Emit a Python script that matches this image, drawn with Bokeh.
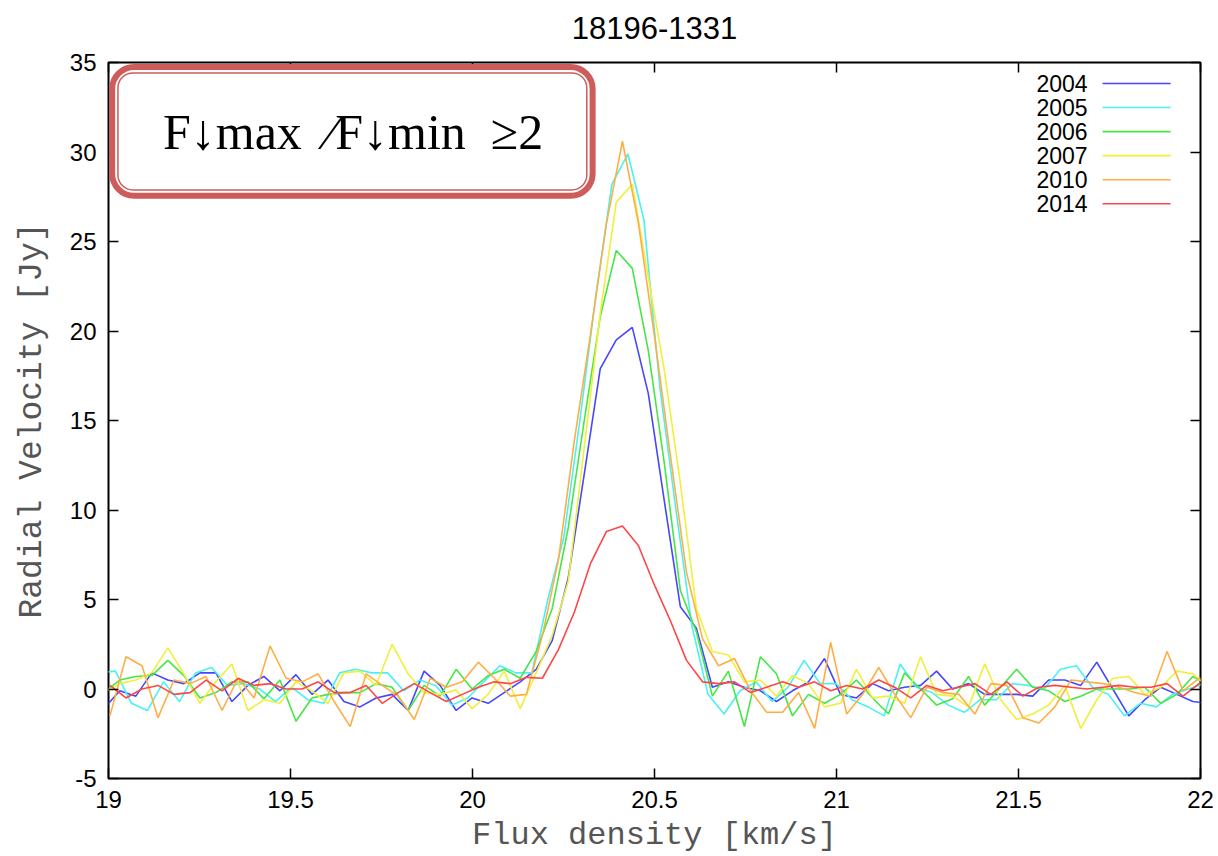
from bokeh.plotting import figure
from bokeh.models import (LinearAxis, FixedTicker, CustomJSTickFormatter, BoxAnnotation,
                          Label, Range1d, ColumnDataSource)
from bokeh.embed import file_html
from bokeh.resources import INLINE
from bokeh.core.properties import value

# ---------------- data ----------------
years = ["2004", "2005", "2006", "2007", "2010", "2014"]
colors = ["#4646ff", "#48f2f2", "#46e646", "#f0f03c", "#ffae46", "#ff4646"]

x_ticks = [19, 19.5, 20, 20.5, 21, 21.5, 22]
y_ticks = [-5, 0, 5, 10, 15, 20, 25, 30, 35]

# channel velocities (km/s)
velocity_base = [
    18.990, 19.034, 19.078, 19.122, 19.166, 19.210, 19.254, 19.298, 19.342, 19.386,
    19.430, 19.474, 19.518, 19.562, 19.606, 19.650, 19.694, 19.738, 19.782, 19.826,
    19.870, 19.914, 19.958, 20.002, 20.046, 20.090, 20.134, 20.178, 20.222, 20.266,
    20.310, 20.354, 20.398, 20.442, 20.486, 20.530, 20.574, 20.618, 20.662, 20.706,
    20.750, 20.794, 20.838, 20.882, 20.926, 20.970, 21.014, 21.058, 21.102, 21.146,
    21.190, 21.234, 21.278, 21.322, 21.366, 21.410, 21.454, 21.498, 21.542, 21.586,
    21.630, 21.674, 21.718, 21.762, 21.806, 21.850, 21.894, 21.938, 21.982, 22.026,
]
# per-epoch channel offset of the velocity grid (km/s)
channel_offset = {"2004": -0.003, "2005": -0.015, "2006": -0.003,
                  "2007": -0.003, "2010": 0.014, "2014": 0.014}

flux_2004 = [
    -1.1, -0.1, -0.4, 0.9, 0.5, 0.3, 0.9, 0.9, -0.7, 0.2,
    0.7, -0.1, 0.8, -0.3, 0.5, -0.7, -1.0, -0.5, -0.3, -1.2,
    1.0, 0.2, -1.2, -0.5, -0.8, -0.2, 0.4, 1.1, 2.7, 6.2,
    12.0, 17.9, 19.5, 20.2, 16.5, 10.5, 4.6, 3.4, 0.1, 0.4,
    0.1, -0.1, -0.7, -0.1, 0.4, 1.7, -0.3, -0.5, 0.3, -0.1,
    0.1, 0.2, 1.0, 0.0, 0.3, -0.3, -0.3, -0.3, -0.4, 0.5,
    0.5, 0.2, 1.5, 0.0, -1.5, -0.6, 0.1, -0.3, -0.7, -0.8,
]
flux_2005 = [
    0.9, 1.0, -0.8, -1.2, 0.4, -0.7, 0.9, 1.2, 0.2, 0.3,
    0.0, -0.7, 0.1, -0.6, -0.8, 0.9, 1.1, 0.9, 0.9, -0.1,
    0.5, 0.2, -0.9, -0.5, 0.4, 1.3, 0.9, 0.9, 5.0, 8.5,
    15.0, 22.0, 28.2, 29.9, 26.2, 16.8, 10.0, 3.5, -0.3, -1.4,
    -0.1, 0.4, -0.7, 0.1, 1.6, 0.3, 0.3, -0.6, -1.0, -1.5,
    1.4, 0.1, -0.2, -0.9, -1.3, -0.6, -0.6, 0.3, 0.2, 0.0,
    1.1, 1.3, 0.1, -0.3, -1.5, -0.8, -1.0, -0.3, 0.0, 0.3,
]
flux_2006 = [
    -0.2, 0.5, 0.7, 0.75, 1.6, 0.75, -0.5, -0.2, 0.4, 0.4,
    -0.55, 0.5, -1.8, -0.5, -0.3, -0.2, -0.2, 0.3, 0.1, -1.2,
    0.2, -0.4, 1.1, 0.0, 0.75, 1.1, 0.6, 2.1, 4.5, 9.0,
    15.0, 20.8, 24.5, 23.5, 18.9, 12.6, 5.5, 3.2, -0.4, 1.0,
    -2.1, 1.8, 0.85, -1.5, -0.3, -0.8, -0.3, 0.5, -0.5, -1.4,
    0.9, 0.0, -0.9, -0.55, 0.7, -0.9, 0.1, 1.1, 0.1, -0.1,
    -0.7, -0.4, 0.0, 0.0, 0.0, 0.1, -0.8, -0.3, 0.7, 0.2,
]
flux_2007 = [
    -0.2, 0.3, 0.5, 0.9, 2.3, 0.85, -0.8, 0.4, 1.4, -1.2,
    -0.6, -0.8, 0.4, -0.1, -0.8, 0.9, 1.0, 0.2, 2.5, 0.85,
    -0.2, -0.3, -0.05, -1.1, -0.3, 1.0, -1.1, 0.9, 3.0, 6.0,
    13.5, 21.0, 27.2, 28.2, 23.0, 17.8, 11.5, 4.5, 2.1, 1.9,
    0.4, 0.5, -0.4, 0.75, 0.3, -1.0, -0.8, 1.1, -0.5, -0.4,
    -0.8, 1.8, -0.3, -0.4, -1.0, 1.4, -0.6, -1.7, -1.4, -0.9,
    0.2, -2.2, -0.6, 0.6, 0.7, -0.3, 0.1, 1.0, 0.85, 0.1,
]
flux_2010 = [
    -1.5, 1.8, 1.3, -1.6, 0.5, 0.3, 0.7, -1.2, 0.6, -0.5,
    2.4, 0.6, 0.4, 0.85, -0.7, -2.1, 0.85, 0.2, -0.4, -1.7,
    0.6, 0.1, 0.4, 1.5, 0.6, -0.4, -0.3, 3.0, 7.2, 13.9,
    19.8, 26.0, 30.6, 26.0, 19.7, 13.0, 6.5, 2.8, 1.3, 1.7,
    -0.1, -1.3, -1.3, -0.2, -2.2, 2.6, -1.4, -0.3, 1.2, -0.3,
    -1.6, 0.1, -0.2, -0.3, -1.4, 0.3, 0.2, -1.6, -1.9, -1.0,
    0.5, 0.4, 0.3, 0.1, -0.2, -0.4, 2.1, -0.1, 0.6, 0.5,
]
flux_2014 = [
    0.2, -0.5, 0.0, 0.2, -0.3, -0.2, 0.5, -0.1, 0.6, 0.2,
    0.3, 0.0, 0.0, 0.4, -0.2, -0.2, 0.2, -0.8, -0.2, 0.3,
    -0.2, -0.7, -0.3, 0.1, 0.4, 0.3, 0.65, 0.6, 2.2, 4.3,
    7.0, 8.8, 9.1, 8.0, 5.8, 3.8, 1.6, 0.4, 0.3, 0.4,
    -0.2, 0.1, 0.4, 0.1, 0.4, -0.1, 0.2, 0.0, 0.5, 0.1,
    -0.5, 0.2, -0.1, 0.1, 0.3, -0.3, 0.4, -0.4, 0.1, 0.2,
    0.1, 0.0, 0.1, 0.2, 0.1, 0.1, 0.3, -0.4, 0.3, 0.4,
]
fluxes = {"2004": flux_2004, "2005": flux_2005, "2006": flux_2006,
          "2007": flux_2007, "2010": flux_2010, "2014": flux_2014}

title_text = "18196-1331"
x_label = "Flux density [km/s]"
y_label = "Radial Velocity [Jy]"
note_text = "F\u2193max\u00a0\u00a0\u2215F\u2193min\u00a0\u00a0\u22652"

# ---------------- figure ----------------
p = figure(width=1218, height=856, x_range=Range1d(19, 22), y_range=Range1d(-5, 35),
           output_backend="svg", toolbar_location=None,
           min_border_left=108, min_border_right=18, min_border_top=62, min_border_bottom=78)
p.background_fill_color = "white"
p.border_fill_color = "white"
p.grid.visible = False
p.outline_line_color = "black"
p.outline_line_width = 2

fmt = CustomJSTickFormatter(code="return tick.toString();")
blank = CustomJSTickFormatter(code="return '';")

def style_axis(ax, ticks, show_labels):
    ax.ticker = FixedTicker(ticks=ticks)
    ax.axis_line_color = None
    ax.major_tick_in = 10
    ax.major_tick_out = 0
    ax.major_tick_line_color = "black"
    ax.major_tick_line_width = 1.5
    ax.minor_tick_line_color = None
    if show_labels:
        ax.formatter = fmt
        ax.major_label_text_font = "Liberation Sans"
        ax.major_label_text_font_size = "24px"
        ax.major_label_text_color = "black"
        ax.major_label_standoff = 12
    else:
        ax.formatter = blank
        ax.major_label_text_font_size = "0px"
        ax.major_label_standoff = 0

xa = p.xaxis[0]
style_axis(xa, x_ticks, True)
xa.axis_label = x_label
xa.axis_label_text_font = "Liberation Mono"
xa.axis_label_text_font_size = "32px"
xa.axis_label_text_font_style = "normal"
xa.axis_label_text_color = "#555555"
xa.axis_label_standoff = 6

ya = p.yaxis[0]
style_axis(ya, y_ticks, True)
ya.axis_label = y_label
ya.axis_label_text_font = "Liberation Mono"
ya.axis_label_text_font_size = "33px"
ya.axis_label_text_font_style = "normal"
ya.axis_label_text_color = "#555555"
ya.axis_label_standoff = 16

# top axis: mirror ticks, and the plot title as its label
top_ax = LinearAxis()
style_axis(top_ax, x_ticks, False)
top_ax.axis_label = title_text
top_ax.axis_label_text_font = "Liberation Sans"
top_ax.axis_label_text_font_size = "31px"
top_ax.axis_label_text_font_style = "normal"
top_ax.axis_label_text_color = "black"
top_ax.axis_label_standoff = 24
p.add_layout(top_ax, "above")
right_ax = LinearAxis()
style_axis(right_ax, y_ticks, False)
p.add_layout(right_ax, "right")

# ---------------- spectra ----------------
for yr, col in zip(years, colors):
    vel = [v + channel_offset[yr] for v in velocity_base]
    src = ColumnDataSource(dict(x=vel, y=fluxes[yr]))
    p.line("x", "y", source=src, line_color=col, line_width=1.6)

# ---------------- gnuplot style key (label left of sample line) ----------------
key_text_x = 21.690
key_line_x0, key_line_x1 = 21.731, 21.918
key_top_y, key_step = 33.83, 1.345
key_y = [key_top_y - i * key_step for i in range(len(years))]
key_src = ColumnDataSource(dict(t=years, y=key_y, c=colors,
                                xt=[key_text_x] * len(years),
                                x0=[key_line_x0] * len(years), x1=[key_line_x1] * len(years)))
p.text(x="xt", y="y", text="t", source=key_src, text_align="right", text_baseline="middle",
       text_font=value("Liberation Sans"), text_font_size="23px", text_color="black")
p.segment(x0="x0", y0="y", x1="x1", y1="y", source=key_src, line_color="c", line_width=1.6)

# ---------------- annotation box ----------------
outer = BoxAnnotation(left=19.010, right=20.330, top=34.75, bottom=27.55,
                      fill_color="white", fill_alpha=1.0,
                      line_color="#cd5c5a", line_alpha=1.0, line_width=6,
                      border_radius=22, level="overlay")
inner = BoxAnnotation(left=19.026, right=20.314, top=34.42, bottom=27.88,
                      fill_alpha=0.0, line_color="#cd5c5a", line_alpha=1.0, line_width=1.5,
                      border_radius=15, level="overlay")
p.add_layout(outer)
p.add_layout(inner)
note = Label(x=19.672, y=31.1, text=note_text, text_align="center", text_baseline="middle",
             text_font="Liberation Serif", text_font_size="50px", text_color="black",
             level="overlay")
p.add_layout(note)

open("out.html", "w").write(file_html(p, INLINE))
